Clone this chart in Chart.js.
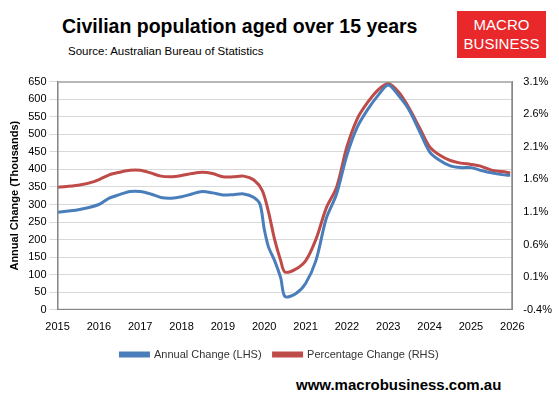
<!DOCTYPE html>
<html><head><meta charset="utf-8">
<script src="https://cdn.jsdelivr.net/npm/chart.js@4/dist/chart.umd.min.js"></script>
<style>
body{margin:0;width:559px;height:416px;background:#fff;font-family:Arial,"Liberation Sans",sans-serif;position:relative;overflow:hidden}
#t{position:absolute;left:62px;top:15px;font-size:19.5px;font-weight:bold;color:#000}
#s{position:absolute;left:68px;top:45px;font-size:11.5px;color:#000}
#logo{position:absolute;left:457px;top:11px;width:89px;height:47px;background:#e8282b;color:#fff;text-align:center;font-size:15px;line-height:19px;padding-top:4px;box-sizing:border-box}
#w{position:absolute;left:296px;top:376px;font-size:15px;font-weight:bold}
#c{position:absolute;left:0;top:72px;width:559px;height:298px}
</style></head><body>
<div id="t">Civilian population aged over 15 years</div>
<div id="s">Source: Australian Bureau of Statistics</div>
<div id="logo">MACRO<br>BUSINESS</div>
<div id="w">www.macrobusiness.com.au</div>
<div id="c"><canvas id="cv"></canvas></div>
<script>
const blueX=[2015,2015.5,2016,2016.25,2016.5,2016.75,2017,2017.25,2017.5,2017.75,2018,2018.25,2018.5,2018.75,2019,2019.25,2019.5,2019.75,2019.9,2020,2020.1,2020.25,2020.4,2020.5,2020.75,2021,2021.25,2021.5,2021.75,2022,2022.25,2022.5,2022.75,2023,2023.25,2023.5,2023.75,2024,2024.25,2024.5,2024.75,2025,2025.25,2025.5,2025.75,2025.95];
const blueY=[278,285,300,318,328,337,337,330,320,318,322,330,337,333,327,328,330,320,300,230,180,140,90,38,45,75,140,260,330,440,520,570,610,640,610,570,510,450,425,410,405,405,397,390,385,383];
const redX=[2015,2015.5,2015.9,2016.25,2016.5,2016.75,2017,2017.25,2017.5,2017.75,2018,2018.25,2018.5,2018.75,2019,2019.25,2019.5,2019.75,2019.95,2020.1,2020.25,2020.4,2020.5,2020.75,2021,2021.25,2021.5,2021.75,2022,2022.25,2022.5,2022.75,2023,2023.25,2023.5,2023.75,2024,2024.25,2024.5,2024.75,2025,2025.25,2025.5,2025.75,2025.95];
const redY=[1.48,1.51,1.57,1.67,1.71,1.74,1.74,1.70,1.65,1.64,1.66,1.69,1.71,1.69,1.64,1.64,1.65,1.59,1.43,1.11,0.68,0.35,0.18,0.22,0.35,0.68,1.16,1.48,2.10,2.53,2.78,2.97,3.07,2.94,2.70,2.40,2.10,1.97,1.89,1.85,1.83,1.80,1.74,1.72,1.70];
const f="Arial, 'Liberation Sans', sans-serif";
const box={id:'box',afterDraw(c){const a=c.chartArea,x=c.ctx;x.save();x.strokeStyle='#888';x.lineWidth=1;x.strokeRect(a.left+0.5,a.top+0.5,a.right-a.left-1,a.bottom-a.top-1);x.restore();}};
new Chart(document.getElementById('cv'),{type:'line',plugins:[box],
data:{datasets:[
{label:'Annual Change (LHS)',data:blueX.map((x,i)=>({x,y:blueY[i]})),borderColor:'#4a7ebb',backgroundColor:'#4a7ebb',borderWidth:3,pointRadius:0,tension:0.3,yAxisID:'y'},
{label:'Percentage Change (RHS)',data:redX.map((x,i)=>({x,y:redY[i]})),borderColor:'#be4b48',backgroundColor:'#be4b48',borderWidth:3,pointRadius:0,tension:0.3,yAxisID:'y1'}]},
options:{responsive:true,maintainAspectRatio:false,animation:false,
layout:{padding:{left:4,right:4,top:2}},
plugins:{legend:{position:'bottom',labels:{boxWidth:28,boxHeight:3,font:{family:f,size:11},color:'#333',padding:12}},tooltip:{enabled:false}},
scales:{
x:{type:'linear',min:2015,max:2026,ticks:{stepSize:1,font:{family:f,size:11},color:'#000',callback:v=>String(v)},grid:{display:false},border:{color:'#888'}},
y:{min:0,max:650,ticks:{stepSize:50,font:{family:f,size:11},color:'#000'},grid:{color:'#d9d9d9'},border:{color:'#888'},title:{display:true,text:'Annual Change (Thousands)',font:{family:f,size:11,weight:'bold'},color:'#000'}},
y1:{position:'right',min:-0.4,max:3.1,ticks:{stepSize:0.5,font:{family:f,size:11},color:'#000',callback:v=>v.toFixed(1)+'%'},grid:{display:false},border:{color:'#888'}}
}}});
</script></body></html>
